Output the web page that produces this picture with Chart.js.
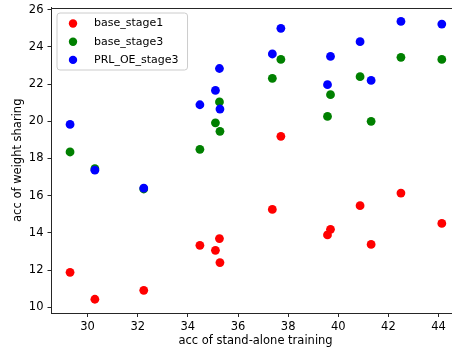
<!DOCTYPE html>
<html>
<head>
<meta charset="utf-8">
<script src="https://cdn.jsdelivr.net/npm/chart.js@4/dist/chart.umd.min.js"></script>
<style>
html,body{margin:0;padding:0;background:#fff;overflow:hidden;}
#wrap{width:452px;height:349px;overflow:hidden;}
canvas{display:block;}
</style>
</head>
<body>
<div id="wrap"><canvas id="c" width="464" height="349"></canvas></div>
<script>
const standAlone = [29.30, 30.29, 32.24, 34.48, 35.10, 35.26, 35.28, 37.37, 37.71, 39.57, 39.69, 40.87, 41.31, 42.50, 44.13];
const baseStage1 = [11.88, 10.43, 10.91, 13.33, 13.06, 13.69, 12.40, 15.26, 19.19, 13.89, 14.19, 15.46, 13.38, 16.14, 14.51];
const baseStage3 = [18.35, 17.45, 16.36, 18.49, 19.92, 21.04, 19.46, 22.31, 23.33, 20.26, 21.43, 22.40, 20.00, 23.44, 23.33];
const prlOeStage3 = [19.83, 17.37, 16.41, 20.89, 21.66, 22.84, 20.66, 23.62, 25.00, 21.97, 23.49, 24.28, 22.20, 25.37, 25.23];
const seriesNames = ['base_stage1', 'base_stage3', 'PRL_OE_stage3'];
const seriesColors = ['#ff0000', '#008000', '#0000ff'];
const xTitle = 'acc of stand-alone training';
const yTitle = 'acc of weight sharing';

const FONT = 'DejaVu Sans';
const seriesValues = [baseStage1, baseStage3, prlOeStage3];
const datasets = seriesValues.map((ys, i) => ({
  label: seriesNames[i],
  data: ys.map((y, k) => ({x: standAlone[k], y: y})),
  backgroundColor: seriesColors[i],
  borderWidth: 0,
  pointRadius: 4.4,
  pointHoverRadius: 4.4,
  order: 3 - i
}));

const frameAndLegend = {
  id: 'frameAndLegend',
  afterDraw(chart) {
    const ctx = chart.ctx;
    const a = chart.chartArea;
    ctx.save();
    ctx.strokeStyle = '#262626';
    ctx.lineWidth = 1;
    ctx.beginPath();
    ctx.moveTo(a.left, Math.round(a.top) + 0.5);
    ctx.lineTo(a.right, Math.round(a.top) + 0.5);
    ctx.lineTo(a.right, a.bottom);
    ctx.stroke();
    ctx.font = '11px "' + FONT + '"';
    let maxW = 0;
    chart.data.datasets.forEach(d => { maxW = Math.max(maxW, ctx.measureText(d.label).width); });
    const bx = a.left + 5.5, by = a.top + 5.5;
    const bw = 37 + maxW + 9, bh = 57;
    const r = 3;
    ctx.beginPath();
    ctx.moveTo(bx + r, by);
    ctx.lineTo(bx + bw - r, by);
    ctx.arcTo(bx + bw, by, bx + bw, by + r, r);
    ctx.lineTo(bx + bw, by + bh - r);
    ctx.arcTo(bx + bw, by + bh, bx + bw - r, by + bh, r);
    ctx.lineTo(bx + r, by + bh);
    ctx.arcTo(bx, by + bh, bx, by + bh - r, r);
    ctx.lineTo(bx, by + r);
    ctx.arcTo(bx, by, bx + r, by, r);
    ctx.closePath();
    ctx.fillStyle = 'rgba(255,255,255,0.8)';
    ctx.fill();
    ctx.strokeStyle = '#cccccc';
    ctx.stroke();
    chart.data.datasets.forEach((d, i) => {
      const cy = by + 10.5 + i * 18.2;
      ctx.beginPath();
      ctx.arc(bx + 16, cy, 4.2, 0, Math.PI * 2);
      ctx.fillStyle = d.backgroundColor;
      ctx.fill();
      ctx.fillStyle = '#000';
      ctx.textBaseline = 'middle';
      ctx.textAlign = 'left';
      ctx.fillText(d.label, bx + 37, cy);
    });
    ctx.restore();
  }
};

new Chart(document.getElementById('c'), {
  type: 'scatter',
  data: {datasets: datasets},
  options: {
    responsive: false,
    animation: false,
    events: [],
    layout: {padding: {top: 7.5, right: 0.5, left: 0, bottom: 0}},
    plugins: {legend: {display: false}, tooltip: {enabled: false}},
    scales: {
      x: {
        type: 'linear',
        min: 28.56,
        max: 44.84,
        afterFit(s) { s.height = 36; s.paddingLeft = 0; s.paddingRight = 0; },
        ticks: {stepSize: 2, includeBounds: false, color: '#000', font: {family: FONT, size: 11.5}, padding: 3, maxRotation: 0},
        grid: {display: true, drawOnChartArea: false, drawTicks: true, tickLength: 4, color: '#262626'},
        border: {display: true, color: '#262626', width: 1},
        title: {display: true, text: xTitle, color: '#000', font: {family: FONT, size: 11.5}, padding: {top: 0, bottom: 1}}
      },
      y: {
        type: 'linear',
        min: 9.69,
        max: 26.12,
        afterFit(s) { s.width = 51.5; s.paddingTop = 0; s.paddingBottom = 0; },
        ticks: {stepSize: 2, includeBounds: false, color: '#000', font: {family: FONT, size: 11.5}, padding: 4},
        grid: {display: true, drawOnChartArea: false, drawTicks: true, tickLength: 4, color: '#262626'},
        border: {display: true, color: '#262626', width: 1},
        title: {display: true, text: yTitle, color: '#000', font: {family: FONT, size: 11.5}, padding: {top: 11, bottom: 0}}
      }
    }
  },
  plugins: [frameAndLegend]
});
</script>
</body>
</html>
